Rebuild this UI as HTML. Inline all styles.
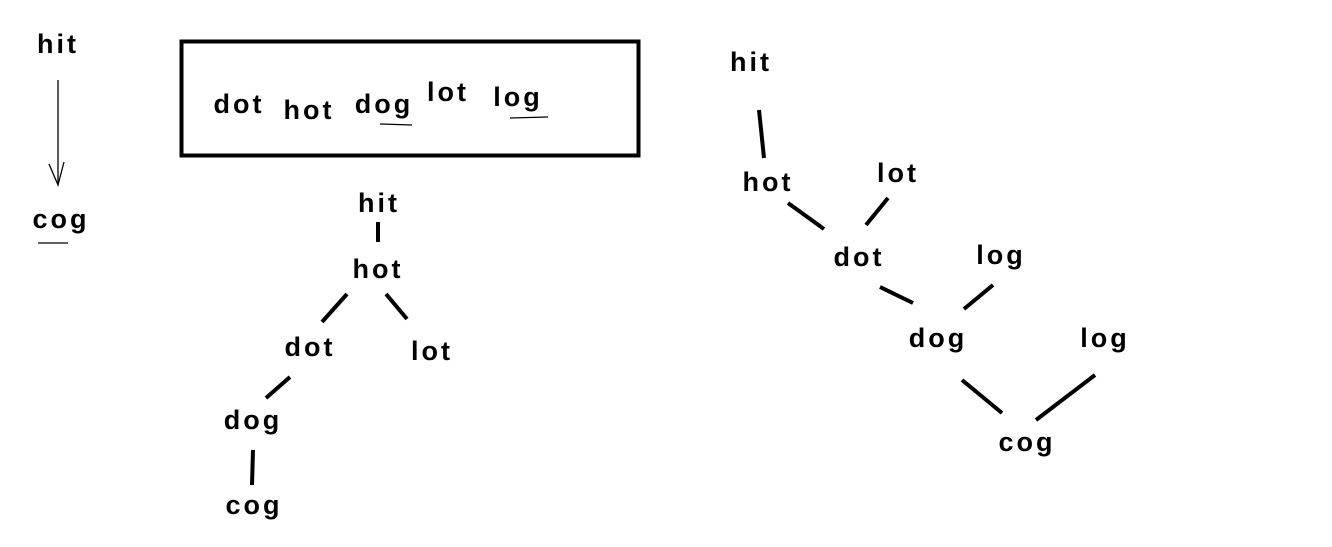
<!DOCTYPE html>
<html><head><style>html,body{margin:0;padding:0;background:#fff;}</style></head>
<body>
<svg width="1332" height="547" xmlns="http://www.w3.org/2000/svg" style="display:block">
<g font-family="Liberation Sans, sans-serif" font-weight="bold" font-size="27" fill="#000" text-anchor="middle" letter-spacing="3">
<text x="58" y="53">hit</text>
<text x="61" y="228">cog</text>
<text x="239" y="113">dot</text>
<text x="309" y="119">hot</text>
<text x="384" y="113">dog</text>
<text x="448" y="101">lot</text>
<text x="518" y="106">log</text>
<text x="379" y="212">hit</text>
<text x="378" y="278">hot</text>
<text x="310" y="356">dot</text>
<text x="432" y="360">lot</text>
<text x="253" y="429">dog</text>
<text x="254" y="514">cog</text>
<text x="751" y="71">hit</text>
<text x="768" y="191">hot</text>
<text x="898" y="182">lot</text>
<text x="859" y="266">dot</text>
<text x="1001" y="264">log</text>
<text x="938" y="347">dog</text>
<text x="1105" y="347">log</text>
<text x="1027" y="451">cog</text>
</g>
<rect x="181.5" y="41.5" width="457" height="114" fill="none" stroke="#000" stroke-width="4"/>
<g stroke="#000" stroke-width="1.3" fill="none">
<line x1="58" y1="80" x2="58" y2="184"/>
<polyline points="49,164 58,185 64,162"/>
<line x1="38" y1="243" x2="68" y2="243"/>
<line x1="380" y1="124" x2="412" y2="125"/>
<line x1="510" y1="118" x2="548" y2="117"/>
</g>
<g stroke="#000" stroke-width="4" fill="none">
<line x1="378" y1="222" x2="378" y2="242"/>
<line x1="347" y1="294" x2="322" y2="322"/>
<line x1="386" y1="294" x2="407" y2="319"/>
<line x1="290" y1="377" x2="266" y2="398"/>
<line x1="253" y1="450" x2="252" y2="485"/>
<line x1="759" y1="110" x2="764" y2="158"/>
<line x1="788" y1="203" x2="824" y2="229"/>
<line x1="888" y1="198" x2="866" y2="225"/>
<line x1="880" y1="287" x2="913" y2="303"/>
<line x1="993" y1="285" x2="964" y2="309"/>
<line x1="962" y1="380" x2="1002" y2="413"/>
<line x1="1095" y1="375" x2="1036" y2="420"/>
</g>
</svg>
</body></html>
